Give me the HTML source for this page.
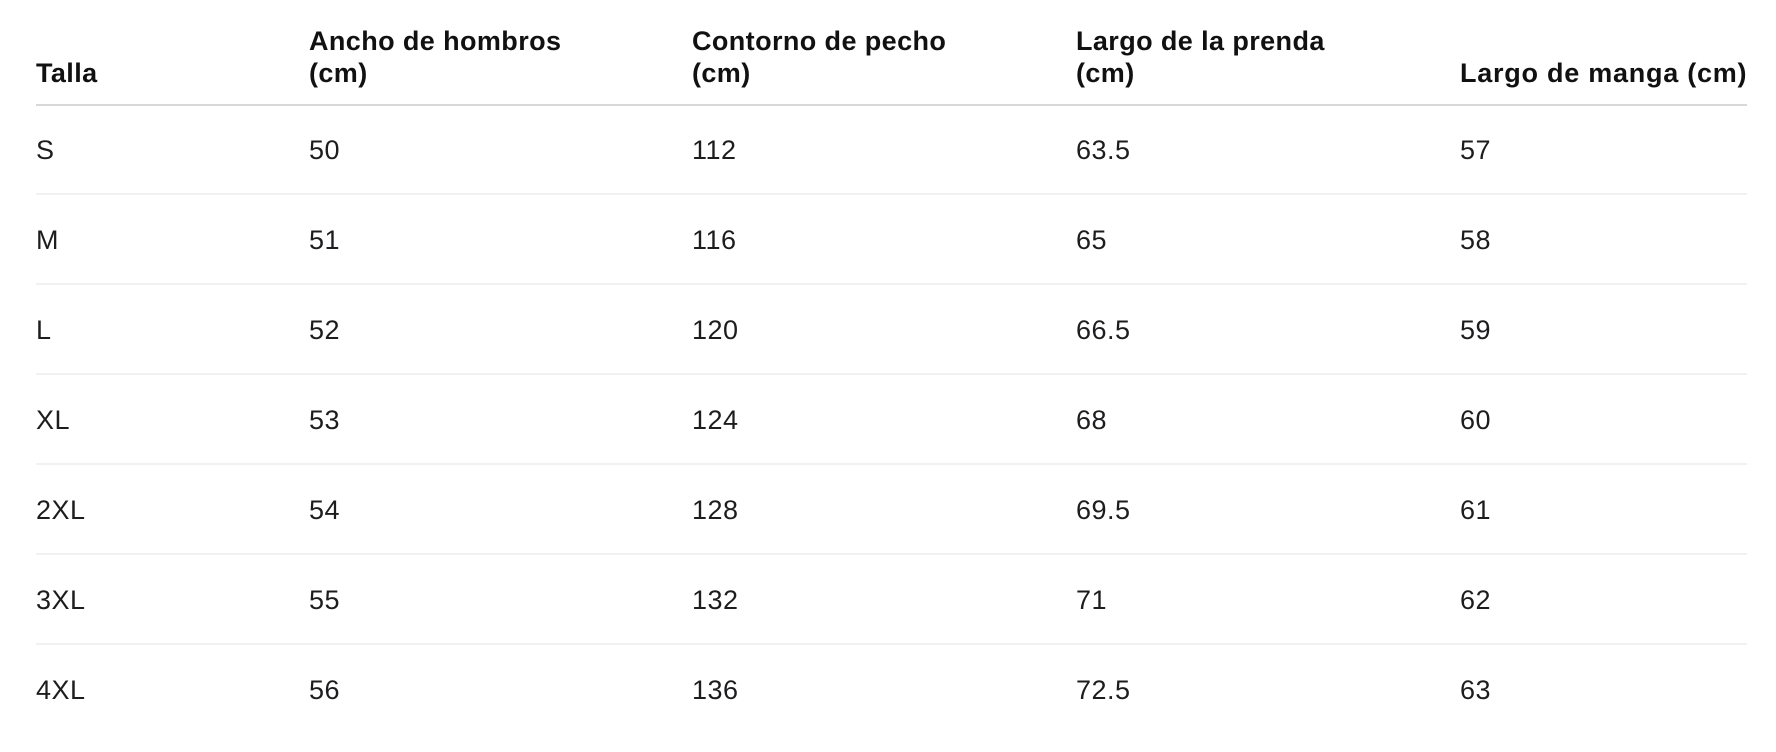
<!DOCTYPE html>
<html>
<head>
<meta charset="utf-8">
<style>
  html, body { margin:0; padding:0; background:#ffffff; }
  body { width:1776px; height:752px; position:relative; overflow:hidden;
         font-family:"Liberation Sans", Arial, sans-serif; color:#1d1d1f; }
  .h { position:absolute; font-size:27px; font-weight:bold; line-height:32px;
       letter-spacing:0.4px; white-space:nowrap; color:#111; }
  .c { position:absolute; font-size:27px; line-height:88px; height:88px;
       letter-spacing:0.5px; white-space:nowrap; }
  .hl { position:absolute; left:36px; width:1711px; top:104px; height:2px; background:#d8d8d8; }
  .rl { position:absolute; left:36px; width:1711px; height:2px; background:#f1f1f1; }
</style>
</head>
<body>
  <!-- header -->
  <div class="h" style="left:36px; top:57px;">Talla</div>
  <div class="h" style="left:309px; top:25px;">Ancho de hombros<br>(cm)</div>
  <div class="h" style="left:692px; top:25px;">Contorno de pecho<br>(cm)</div>
  <div class="h" style="left:1076px; top:25px;">Largo de la prenda<br>(cm)</div>
  <div class="h" style="left:1460px; top:57px; letter-spacing:0.75px;">Largo de manga (cm)</div>
  <div class="hl"></div>

  <!-- row separators -->
  <div class="rl" style="top:193px;"></div>
  <div class="rl" style="top:283px;"></div>
  <div class="rl" style="top:373px;"></div>
  <div class="rl" style="top:463px;"></div>
  <div class="rl" style="top:553px;"></div>
  <div class="rl" style="top:643px;"></div>

  <!-- row S -->
  <div class="c" style="left:36px; top:106px;">S</div>
  <div class="c" style="left:309px; top:106px;">50</div>
  <div class="c" style="left:692px; top:106px;">112</div>
  <div class="c" style="left:1076px; top:106px;">63.5</div>
  <div class="c" style="left:1460px; top:106px;">57</div>

  <!-- row M -->
  <div class="c" style="left:36px; top:196px;">M</div>
  <div class="c" style="left:309px; top:196px;">51</div>
  <div class="c" style="left:692px; top:196px;">116</div>
  <div class="c" style="left:1076px; top:196px;">65</div>
  <div class="c" style="left:1460px; top:196px;">58</div>

  <!-- row L -->
  <div class="c" style="left:36px; top:286px;">L</div>
  <div class="c" style="left:309px; top:286px;">52</div>
  <div class="c" style="left:692px; top:286px;">120</div>
  <div class="c" style="left:1076px; top:286px;">66.5</div>
  <div class="c" style="left:1460px; top:286px;">59</div>

  <!-- row XL -->
  <div class="c" style="left:36px; top:376px;">XL</div>
  <div class="c" style="left:309px; top:376px;">53</div>
  <div class="c" style="left:692px; top:376px;">124</div>
  <div class="c" style="left:1076px; top:376px;">68</div>
  <div class="c" style="left:1460px; top:376px;">60</div>

  <!-- row 2XL -->
  <div class="c" style="left:36px; top:466px;">2XL</div>
  <div class="c" style="left:309px; top:466px;">54</div>
  <div class="c" style="left:692px; top:466px;">128</div>
  <div class="c" style="left:1076px; top:466px;">69.5</div>
  <div class="c" style="left:1460px; top:466px;">61</div>

  <!-- row 3XL -->
  <div class="c" style="left:36px; top:556px;">3XL</div>
  <div class="c" style="left:309px; top:556px;">55</div>
  <div class="c" style="left:692px; top:556px;">132</div>
  <div class="c" style="left:1076px; top:556px;">71</div>
  <div class="c" style="left:1460px; top:556px;">62</div>

  <!-- row 4XL -->
  <div class="c" style="left:36px; top:646px;">4XL</div>
  <div class="c" style="left:309px; top:646px;">56</div>
  <div class="c" style="left:692px; top:646px;">136</div>
  <div class="c" style="left:1076px; top:646px;">72.5</div>
  <div class="c" style="left:1460px; top:646px;">63</div>
</body>
</html>
